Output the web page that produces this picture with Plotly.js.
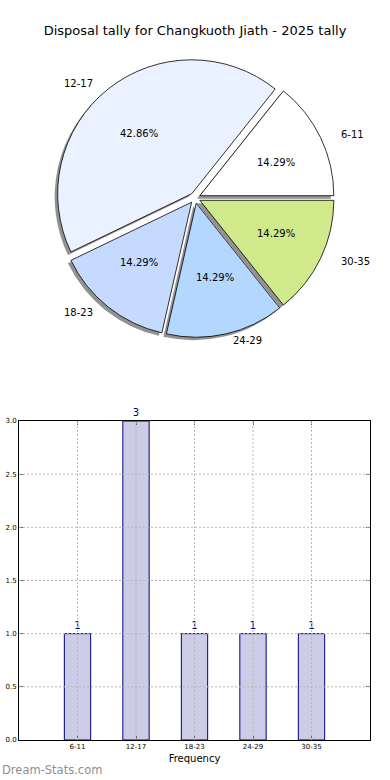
<!DOCTYPE html>
<html>
<head>
<meta charset="utf-8">
<script src="https://cdn.plot.ly/plotly-3.0.1.min.js"></script>
<style>
html,body{margin:0;padding:0;background:#fff;}
#chart{width:390px;height:780px;}
</style>
</head>
<body>
<div id="chart"></div>
<script>
// ---- data ----
const titleText = 'Disposal tally for Changkuoth Jiath - 2025 tally';
const categories = ['6-11', '12-17', '18-23', '24-29', '30-35'];
const counts = [1, 3, 1, 1, 1];
const yTickVals = [0, 0.5, 1, 1.5, 2, 2.5, 3];
const yTickText = ['0.0', '0.5', '1.0', '1.5', '2.0', '2.5', '3.0'];
const xAxisTitle = 'Frequency';
const watermark = 'Dream-Stats.com';

// ---- styles ----
const sliceColors = ['#ffffff', '#eaf1ff', '#c6d9ff', '#b3d7ff', '#d0ea8b'];
const FONT = 'DejaVu Sans, Verdana, sans-serif';
const W = 390, H = 780;

// pie geometry (pixels)
const cx = 195, cy = 198, r = 134, pull = 0.04;
const lblRx = 140, lblRy = 128;
const half = r * (1 + pull);
const shadowDx = -3, shadowDy = 3;

function dom(cxp, cyp) {
  return {
    x: [(cxp - half) / W, (cxp + half) / W],
    y: [1 - (cyp + half) / H, 1 - (cyp - half) / H]
  };
}

const total = counts.reduce((a, b) => a + b, 0);
const rotation = 90 - 360 * counts[0] / total;

const shadowPie = {
  type: 'pie',
  values: counts,
  labels: categories,
  sort: false,
  direction: 'counterclockwise',
  rotation: rotation,
  pull: counts.map(() => pull),
  marker: {colors: counts.map(() => 'rgba(110,110,110,0.75)'), line: {width: 0}},
  textinfo: 'none',
  hoverinfo: 'skip',
  domain: dom(cx + shadowDx, cy + shadowDy),
  showlegend: false
};

const mainPie = {
  type: 'pie',
  values: counts,
  labels: categories,
  sort: false,
  direction: 'counterclockwise',
  rotation: rotation,
  pull: counts.map(() => pull),
  marker: {colors: sliceColors, line: {color: '#000000', width: 0.8}},
  textinfo: 'none',
  domain: dom(cx, cy),
  showlegend: false
};

const bars = {
  type: 'bar',
  x: categories,
  y: counts,
  width: 0.45,
  marker: {color: '#ccccE6', line: {color: '#000080', width: 1}},
  text: counts.map(String),
  textposition: 'outside',
  textfont: {family: FONT, size: 10, color: '#000080'},
  cliponaxis: false,
  xaxis: 'x',
  yaxis: 'y',
  showlegend: false
};

// annotations for pie labels and percentages, computed from the values
const annotations = [];
let start = 0;
counts.forEach((v, i) => {
  const ang = 360 * v / total;
  const mid = (start + ang / 2) * Math.PI / 180;
  start += ang;
  const c = Math.cos(mid), s = Math.sin(mid);
  const lx = cx + (1.1 + pull) * lblRx * c;
  const ly = cy - (1.1 + pull) * lblRy * s;
  annotations.push({
    xref: 'paper', yref: 'paper',
    x: lx / W, y: 1 - ly / H,
    xanchor: c > 0 ? 'left' : 'right', yanchor: 'middle',
    text: categories[i], showarrow: false,
    font: {family: FONT, size: 10, color: '#000000'}
  });
  const px = cx + (0.6 + pull) * lblRx * c;
  const py = cy - (0.6 + pull) * lblRy * s;
  annotations.push({
    xref: 'paper', yref: 'paper',
    x: px / W, y: 1 - py / H,
    xanchor: 'center', yanchor: 'middle',
    text: (100 * v / total).toFixed(2) + '%', showarrow: false,
    font: {family: FONT, size: 10, color: '#000000'}
  });
});

annotations.push({
  xref: 'paper', yref: 'paper',
  x: 0, y: 1 - 770 / H,
  xanchor: 'left', yanchor: 'middle',
  text: watermark, showarrow: false,
  font: {family: FONT, size: 11.5, color: '#8f8f8f'}
});

// grid lines drawn above the bars (as in the reference), from ticks/categories
const gridStyle = {color: '#b8b8b8', width: 1, dash: '2px,2px'};
const shapes = [];
categories.forEach(cat => {
  shapes.push({type: 'line', xref: 'x', yref: 'y domain', x0: cat, x1: cat, y0: 0, y1: 1,
               line: gridStyle, layer: 'above'});
});
yTickVals.slice(1, -1).forEach(v => {
  shapes.push({type: 'line', xref: 'x domain', yref: 'y', x0: 0, x1: 1, y0: v, y1: v,
               line: gridStyle, layer: 'above'});
});

const layout = {
  width: W, height: H,
  margin: {l: 0, r: 0, t: 0, b: 0},
  paper_bgcolor: '#ffffff',
  plot_bgcolor: '#ffffff',
  showlegend: false,
  font: {family: FONT, color: '#000000'},
  title: {
    text: titleText,
    font: {family: FONT, size: 13, color: '#000000'},
    x: 0.5, xanchor: 'center',
    y: 1 - 30 / H, yanchor: 'middle'
  },
  xaxis: {
    domain: [19 / W, 370 / W],
    anchor: 'y',
    type: 'category',
    range: [-1, 5],
    showline: true, linecolor: '#000000', linewidth: 1, mirror: 'ticks',
    ticks: 'inside', ticklen: 4, tickcolor: '#666666',
    showgrid: false,
    tickfont: {family: FONT, size: 7, color: '#000000'},
    title: {text: xAxisTitle, font: {family: FONT, size: 10, color: '#000000'}, standoff: 4},
    zeroline: false, fixedrange: true
  },
  yaxis: {
    domain: [1 - 740 / H, 1 - 421 / H],
    anchor: 'x',
    range: [0, 3],
    tickvals: yTickVals, ticktext: yTickText,
    showline: true, linecolor: '#000000', linewidth: 1, mirror: 'ticks',
    ticks: 'inside', ticklen: 4, tickcolor: '#666666',
    showgrid: false,
    tickfont: {family: FONT, size: 7, color: '#000000'},
    zeroline: false, fixedrange: true
  },
  shapes: shapes,
  annotations: annotations
};

Plotly.newPlot('chart', [shadowPie, mainPie, bars], layout, {displayModeBar: false, staticPlot: true});
</script>
</body>
</html>
